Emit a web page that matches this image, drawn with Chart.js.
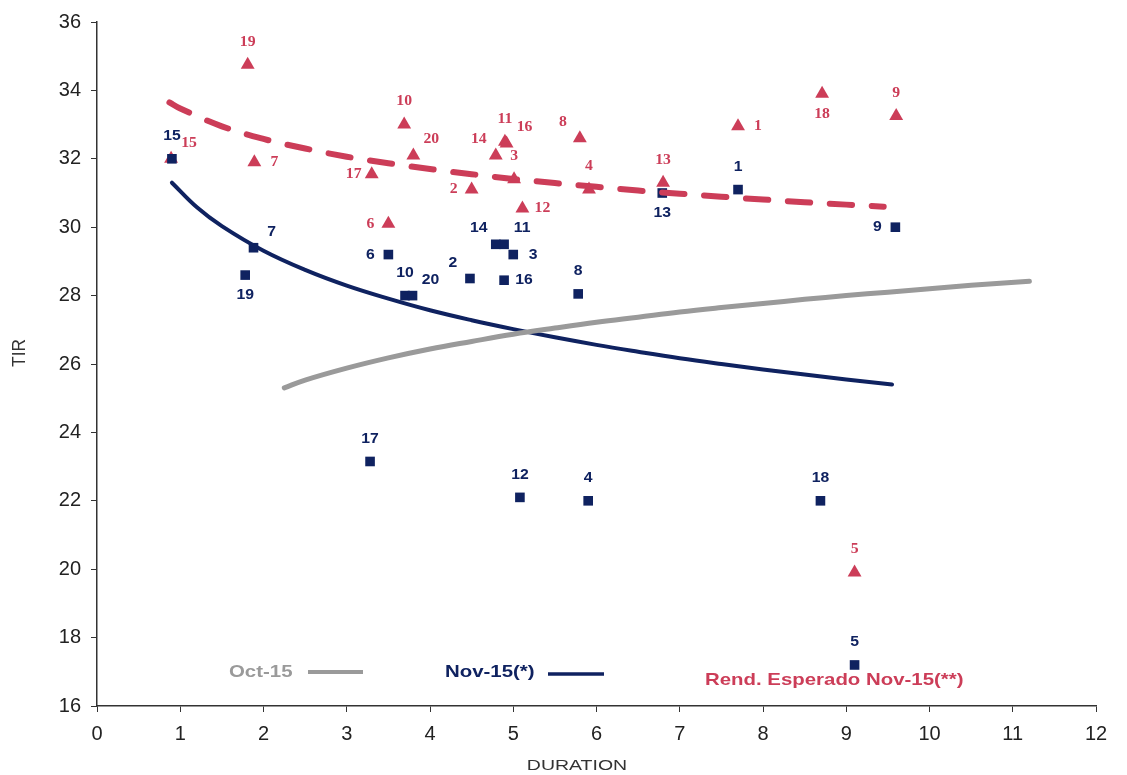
<!DOCTYPE html>
<html>
<head>
<meta charset="utf-8">
<script src="https://cdn.jsdelivr.net/npm/chart.js@4.4.0/dist/chart.umd.min.js"></script>
<style>
  html, body { margin: 0; padding: 0; background: #fff; }
  #wrap { width: 1127px; height: 775px; }
</style>
</head>
<body>
<div id="wrap"><canvas id="tirChart" width="1127" height="775"></canvas></div>
<script>
// ---------- DATOS ----------
const bondIds = [1, 2, 3, 4, 5, 6, 7, 8, 9, 10, 11, 12, 13, 14, 15, 16, 17, 18, 19, 20];

// Nov-15 (*) - cuadrados azules
const durNov = [7.70, 4.48, 5.00, 5.90, 9.10, 3.50, 1.88, 5.78, 9.59, 3.70, 4.89, 5.08, 6.79, 4.79, 0.90, 4.89, 3.28, 8.69, 1.78, 3.79];
const tirNov = [31.1, 28.5, 29.2, 22.0, 17.2, 29.2, 29.4, 28.05, 30.0, 28.0, 29.5, 22.1, 31.0, 29.5, 32.0, 28.45, 23.15, 22.0, 28.6, 28.0];

// Rend. Esperado Nov-15 (**) - triangulos rojos
const durEsp = [7.70, 4.50, 5.01, 5.91, 9.10, 3.50, 1.89, 5.80, 9.60, 3.69, 4.90, 5.11, 6.80, 4.79, 0.89, 4.92, 3.30, 8.71, 1.81, 3.80];
const tirEsp = [32.95, 31.1, 31.4, 31.1, 19.9, 30.1, 31.9, 32.6, 33.25, 33.0, 32.5, 30.55, 31.3, 32.1, 32.0, 32.45, 31.55, 33.9, 34.75, 32.1];

// curvas
const curveOctX = [2.25, 2.5, 3, 3.5, 4, 4.5, 5, 5.5, 6, 6.5, 7, 7.5, 8, 8.5, 9, 9.5, 10, 10.5, 11.2];
const curveOctY = [25.3, 25.53, 25.88, 26.18, 26.44, 26.66, 26.87, 27.05, 27.22, 27.37, 27.52, 27.65, 27.77, 27.89, 28.0, 28.1, 28.2, 28.3, 28.42];

const curveNovX = [0.9, 1.2, 1.5, 2, 2.5, 3, 3.5, 4, 4.5, 5, 5.5, 6, 6.5, 7, 7.5, 8, 8.5, 9, 9.55];
const curveNovY = [31.3, 30.58, 30.03, 29.31, 28.75, 28.29, 27.91, 27.57, 27.28, 27.02, 26.78, 26.56, 26.36, 26.17, 26.0, 25.84, 25.69, 25.55, 25.4];

const curveEspX = [0.87, 1, 1.5, 2, 2.5, 3, 3.5, 4, 4.5, 5, 5.5, 6, 6.5, 7, 7.5, 8, 8.5, 9, 9.45];
const curveEspY = [33.65, 33.47, 32.95, 32.58, 32.30, 32.06, 31.87, 31.70, 31.55, 31.41, 31.29, 31.18, 31.07, 30.98, 30.89, 30.81, 30.73, 30.66, 30.6];

const xTicks = [0, 1, 2, 3, 4, 5, 6, 7, 8, 9, 10, 11, 12];
const yTicks = [16, 18, 20, 22, 24, 26, 28, 30, 32, 34, 36];

// posicion de etiquetas (estilo, no datos)
const labelPosNov = ['t', 'tl', 'r', 't', 't', 'l', 'tr', 't', 'l', 't', 'tr', 't', 'b', 'tl', 't', 'r', 't', 't', 'b', 'tr'];
const labelPosEsp = ['r', 'l', 't', 't', 't', 'l', 'r', 'tl', 't', 't', 't', 'r', 't', 'tl', 'tr', 'tr', 'l', 'b', 't', 'tr'];

const NAVY = '#0f2260';
const RED = '#cc3d58';
const GREY = '#9a9a9a';
const SANS = '"Liberation Sans", Arial, sans-serif';

function toPoints(xs, ys) {
  return xs.map((x, i) => ({ x: x, y: ys[i] }));
}

// texto algo ensanchado, como en la imagen original
function wideText(ctx, txt, x, y, sx, align) {
  ctx.save();
  ctx.translate(x, y);
  ctx.scale(sx, 1);
  ctx.textAlign = align;
  ctx.fillText(txt, 0, 0);
  ctx.restore();
}

// ---------- PLUGINS ----------
const offsets = {
  t: [0, -23], b: [0, 20], l: [-18, 0], r: [20, 0],
  tl: [-17, -16], tr: [18, -16]
};

const pointLabels = {
  id: 'pointLabels',
  afterDatasetsDraw(chart) {
    const ctx = chart.ctx;
    const sets = [
      { idx: 3, pos: labelPosNov, color: NAVY, font: 'bold 15px ' + SANS },
      { idx: 4, pos: labelPosEsp, color: RED, font: 'bold 15px "Liberation Serif", "Times New Roman", serif' }
    ];
    ctx.save();
    ctx.textBaseline = 'middle';
    sets.forEach(s => {
      const meta = chart.getDatasetMeta(s.idx);
      ctx.fillStyle = s.color;
      ctx.font = s.font;
      meta.data.forEach((pt, i) => {
        const o = offsets[s.pos[i]];
        wideText(ctx, String(bondIds[i]), pt.x + o[0], pt.y + o[1], 1.05, 'center');
      });
    });
    ctx.restore();
  }
};

const customLegend = {
  id: 'customLegend',
  afterDraw(chart) {
    const ctx = chart.ctx;
    ctx.save();
    ctx.textBaseline = 'middle';

    // titulos de ejes
    ctx.fillStyle = '#333';
    ctx.font = '15px ' + SANS;
    wideText(ctx, 'DURATION', 577, 766, 1.3, 'center');
    ctx.save();
    ctx.translate(20, 353);
    ctx.rotate(-Math.PI / 2);
    ctx.scale(1.15, 1.2);
    ctx.textAlign = 'center';
    ctx.fillText('TIR', 0, 0);
    ctx.restore();

    // leyenda
    ctx.font = 'bold 17px ' + SANS;
    ctx.fillStyle = GREY;
    wideText(ctx, 'Oct-15', 229, 672, 1.2, 'left');
    ctx.strokeStyle = GREY;
    ctx.lineWidth = 4;
    ctx.beginPath(); ctx.moveTo(308, 672); ctx.lineTo(363, 672); ctx.stroke();

    ctx.fillStyle = NAVY;
    wideText(ctx, 'Nov-15(*)', 445, 672, 1.2, 'left');
    ctx.strokeStyle = NAVY;
    ctx.lineWidth = 3.5;
    ctx.beginPath(); ctx.moveTo(548, 674); ctx.lineTo(604, 674); ctx.stroke();

    ctx.fillStyle = RED;
    wideText(ctx, 'Rend. Esperado Nov-15(**)', 705, 680, 1.2, 'left');
    ctx.restore();
  }
};

// ---------- GRAFICO ----------
const ctx = document.getElementById('tirChart').getContext('2d');
new Chart(ctx, {
  type: 'scatter',
  data: {
    datasets: [
      {
        label: 'Oct-15',
        data: toPoints(curveOctX, curveOctY),
        showLine: true, pointRadius: 0,
        borderColor: GREY, borderWidth: 5, tension: 0.4, borderCapStyle: 'round'
      },
      {
        label: 'Nov-15(*)',
        data: toPoints(curveNovX, curveNovY),
        showLine: true, pointRadius: 0,
        borderColor: NAVY, borderWidth: 4, tension: 0.4, borderCapStyle: 'round'
      },
      {
        label: 'Rend. Esperado Nov-15(**)',
        data: toPoints(curveEspX, curveEspY),
        showLine: true, pointRadius: 0,
        borderColor: RED, borderWidth: 6, tension: 0.4,
        borderDash: [22, 20], borderCapStyle: 'round'
      },
      {
        label: 'Nov-15 bonos',
        data: toPoints(durNov, tirNov),
        pointStyle: 'rect', pointRadius: 6.8,
        backgroundColor: NAVY, borderColor: NAVY, borderWidth: 0
      },
      {
        label: 'Esperado bonos',
        data: toPoints(durEsp, tirEsp),
        pointStyle: 'triangle', pointRadius: 8,
        backgroundColor: RED, borderColor: RED, borderWidth: 0
      }
    ]
  },
  options: {
    responsive: false,
    animation: false,
    layout: { padding: { top: 22, right: 31, left: 0, bottom: 0 } },
    plugins: {
      legend: { display: false },
      tooltip: { enabled: false }
    },
    scales: {
      x: {
        type: 'linear', min: 0, max: 12,
        afterBuildTicks: s => { s.ticks = xTicks.map(v => ({ value: v })); },
        afterFit: s => { s.height = 69; },
        grid: { drawOnChartArea: false, drawTicks: true, tickLength: 6, color: '#333' },
        border: { color: '#333', width: 1.5 },
        ticks: { color: '#222', font: { size: 20, family: SANS }, padding: 10, maxRotation: 0 }
      },
      y: {
        type: 'linear', min: 16, max: 36,
        afterBuildTicks: s => { s.ticks = yTicks.map(v => ({ value: v })); },
        afterFit: s => { s.width = 97; },
        grid: { drawOnChartArea: false, drawTicks: true, tickLength: 6, color: '#333' },
        border: { color: '#333', width: 1.5 },
        ticks: { color: '#222', font: { size: 20, family: SANS }, padding: 10 }
      }
    }
  },
  plugins: [pointLabels, customLegend]
});
</script>
</body>
</html>
